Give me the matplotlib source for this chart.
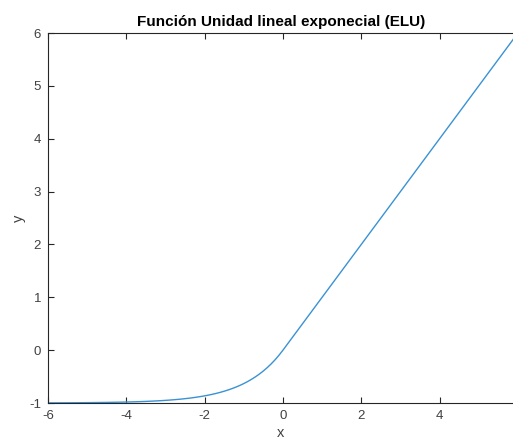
import matplotlib
matplotlib.use('Agg')
import matplotlib.pyplot as plt
import numpy as np

# ELU with alpha = 1, sampled every 0.1 over the plotted range
x_start, x_end, x_step = -6.0, 5.9, 0.1
alpha = 1.0
x = np.round(np.arange(x_start, x_end + x_step / 2, x_step), 2)
y = np.where(x > 0, x, alpha * (np.exp(x) - 1))

x_ticks = [-6, -4, -2, 0, 2, 4]
y_ticks = [-1, 0, 1, 2, 3, 4, 5, 6]

plt.rcParams['font.family'] = ['Liberation Sans', 'DejaVu Sans']
plt.rcParams['axes.unicode_minus'] = False

W, H = 513, 445
fig = plt.figure(figsize=(W / 100, H / 100), dpi=100)
ax = fig.add_axes([48 / W, (H - 403) / H, 466 / W, 370 / H])

ax.plot(x, y, color='#3a92d4', linewidth=1.0)

ax.set_xlim(-6, 5.9)
ax.set_ylim(-1, 6)
ax.set_xticks(x_ticks)
ax.set_yticks(y_ticks)

dark = '#262626'
grey = '#404040'
for side in ['left', 'bottom', 'top']:
    ax.spines[side].set_color(dark)
    ax.spines[side].set_linewidth(0.8)
ax.spines['right'].set_visible(False)
ax.tick_params(direction='in', length=4, width=0.8, colors=dark,
               labelcolor=grey, labelsize=9.5, top=True, right=False, pad=5)

ax.set_xlabel('x', fontsize=10.5, color=grey, labelpad=3)
ax.set_ylabel('y', fontsize=10.5, color=grey, labelpad=2)
ax.set_title('Función Unidad lineal exponecial (ELU)', fontsize=11,
             fontweight='bold', color='black', pad=5)

fig.savefig('out.png', dpi=100)
